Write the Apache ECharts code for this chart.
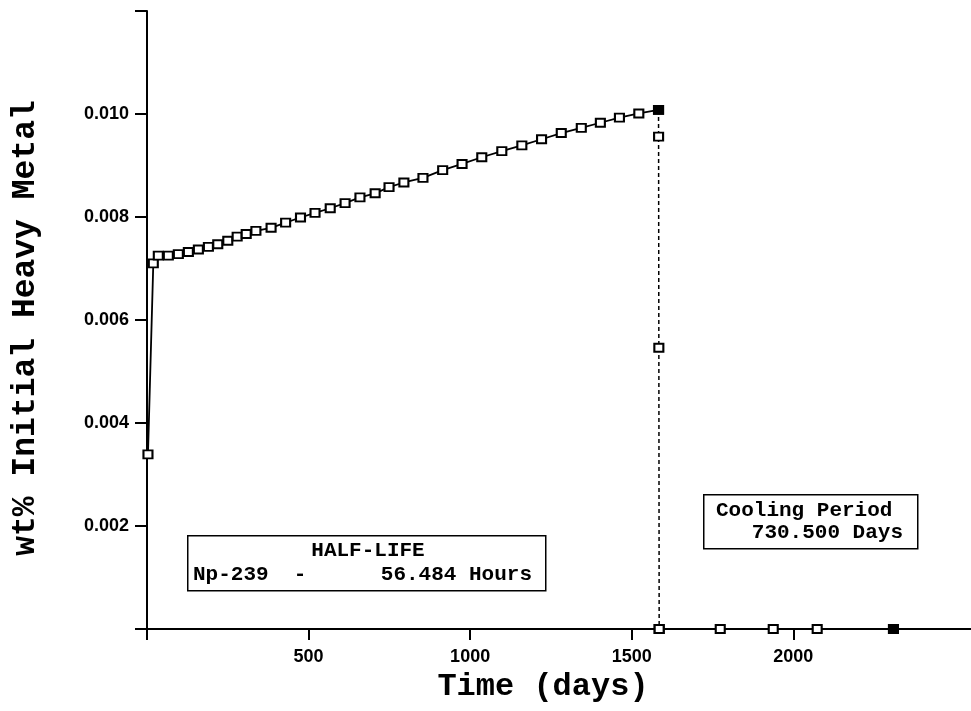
<!DOCTYPE html>
<html><head><meta charset="utf-8">
<script src="https://cdn.jsdelivr.net/npm/echarts@6/dist/echarts.min.js"></script>
<style>html,body{margin:0;padding:0;background:#fff}#c{width:971px;height:711px}</style>
</head><body><div id="c"></div>
<script>
const irrTimes = [3,19.5,35,66,97,128,159,190,219,250,279,307,337,384,429,475,520,567,613,659,706,749,795,854,915,975,1036,1098,1160,1221,1282,1344,1403,1462,1522,1583];
const irrValues = [0.00339,0.00710,0.00725,0.00725,0.00728,0.00732,0.00737,0.00742,0.00747,0.00754,0.00762,0.00767,0.00773,0.00779,0.00789,0.00799,0.00808,0.00817,0.00827,0.00838,0.00846,0.00858,0.00867,0.00876,0.00891,0.00903,0.00916,0.00928,0.00939,0.00951,0.00963,0.00973,0.00983,0.00993,0.01001,0.01008];
const decayTimes = [1583,1583.2,1584,1585];
const decayValues = [0.01008,0.00956,0.00546,0];
const coolTimes = [1585,1774,1938,2074,2310];
const coolValues = [0,0,0,0,0];
const xTickValues = [0,500,1000,1500,2000];
const xLabelValues = [500,1000,1500,2000];
const yTickValues = [0,0.002,0.004,0.006,0.008,0.010,0.012];
const yLabelValues = [0.002,0.004,0.006,0.008,0.010];
const xTitle = 'Time (days)';
const yTitle = 'wt% Initial Heavy Metal';
const box1 = ['HALF-LIFE','Np-239  -','56.484 Hours'];
const box2 = ['Cooling Period','730.500 Days'];

const chart = echarts.init(document.getElementById('c'), null, {renderer:'canvas'});
const pair = (ts, vs) => ts.map((t,i)=>[t, vs[i]]);
const sym = {symbol:'rect', symbolSize:[9,8], showAllSymbol:true,
  itemStyle:{color:'#fff', borderColor:'#000', borderWidth:2}};
const monoFont = 'Liberation Mono';
const decayData = pair(decayTimes, decayValues).map((d,i)=> i===0 ? {value:d, itemStyle:{color:'#000'}} : d);
const coolData = pair(coolTimes, coolValues).map((d,i,a)=> i===a.length-1 ? {value:d, itemStyle:{color:'#000'}} : d);
const boxFont = 'bold 21px "Liberation Mono"';
chart.setOption({
  animation:false,
  backgroundColor:'#fff',
  grid:{left:147, right:0, top:11, bottom:82},
  xAxis:{type:'value', min:0, max:2550, interval:500,
    axisLine:{show:true, lineStyle:{color:'#000', width:2}},
    axisTick:{show:true, length:11, customValues:xTickValues, lineStyle:{color:'#000', width:2}},
    axisLabel:{customValues:xLabelValues, margin:19, color:'#000', fontFamily:'Liberation Sans', fontWeight:'bold', fontSize:18,
      formatter:v=>String(v)},
    splitLine:{show:false},
    name:xTitle, nameLocation:'middle', nameGap:42,
    nameTextStyle:{fontFamily:monoFont, fontWeight:'bold', fontSize:32, color:'#000', padding:[0,32,0,0]}
  },
  yAxis:{type:'value', min:0, max:0.012, interval:0.002,
    axisLine:{show:true, lineStyle:{color:'#000', width:2}},
    axisTick:{show:true, length:12, customValues:yTickValues, lineStyle:{color:'#000', width:2}},
    axisLabel:{customValues:yLabelValues, margin:18, color:'#000', fontFamily:'Liberation Sans', fontWeight:'bold', fontSize:18,
      formatter:v=>v.toFixed(3)},
    splitLine:{show:false},
    name:yTitle, nameLocation:'middle', nameGap:105, nameRotate:90,
    nameTextStyle:{fontFamily:monoFont, fontWeight:'bold', fontSize:33, color:'#000', padding:[0,16,0,0]}
  },
  series:[
    Object.assign({type:'line', name:'irr', data:pair(irrTimes, irrValues),
      lineStyle:{color:'#000', width:1.8}, z:3}, sym),
    Object.assign({type:'line', name:'decay', data:decayData,
      lineStyle:{color:'#000', width:1.5, type:[4,3]}, z:4}, sym),
    Object.assign({type:'line', name:'cool', data:coolData,
      lineStyle:{color:'#000', width:1.8}, z:2}, sym)
  ],
  graphic:[
    {type:'rect', left:187, top:535, shape:{width:358, height:55}, style:{fill:'#fff', stroke:'#000', lineWidth:1.5}, z:10},
    {type:'text', x:368, y:551, style:{text:box1[0], font:boxFont, fill:'#000', textAlign:'center', textVerticalAlign:'middle'}, z:11},
    {type:'text', x:193, y:575, style:{text:box1[1], font:boxFont, fill:'#000', textAlign:'left', textVerticalAlign:'middle'}, z:11},
    {type:'text', x:532, y:575, style:{text:box1[2], font:boxFont, fill:'#000', textAlign:'right', textVerticalAlign:'middle'}, z:11},
    {type:'rect', left:703, top:494, shape:{width:214, height:54}, style:{fill:'#fff', stroke:'#000', lineWidth:1.5}, z:10},
    {type:'text', x:716, y:511, style:{text:box2[0], font:boxFont, fill:'#000', textAlign:'left', textVerticalAlign:'middle'}, z:11},
    {type:'text', x:903, y:533, style:{text:box2[1], font:boxFont, fill:'#000', textAlign:'right', textVerticalAlign:'middle'}, z:11}
  ]
});
</script></body></html>
